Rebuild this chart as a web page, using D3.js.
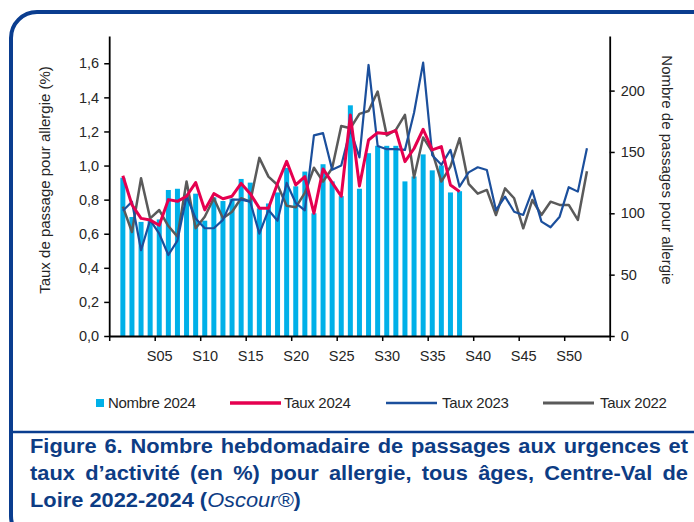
<!DOCTYPE html>
<html><head><meta charset="utf-8">
<script src="https://cdn.jsdelivr.net/npm/d3@7"></script>
<style>
html,body{margin:0;padding:0;background:#fff;}
text{font-family:"Liberation Sans",Arial,sans-serif;}
</style></head>
<body><svg id="chart" width="694" height="522"></svg>
<script>
// ---------- DATA ----------
const weeks2024 = d3.range(1, 39);
const weeksFull = d3.range(1, 53);
const nombre2024 = [129,97,93,95,95,119,120,116,116,94,113,110,112,128,125,104,108,117,137,122,134,100,140,126,114,188,120,149,155,155,155,126,130,148,135,139,117,118];
const taux2024 = [0.94,0.77,0.69,0.68,0.65,0.80,0.79,0.82,0.90,0.74,0.835,0.805,0.82,0.895,0.835,0.75,0.75,0.895,1.025,0.886,0.935,0.72,0.98,0.90,0.82,1.297,0.88,1.15,1.193,1.187,1.205,1.023,1.10,1.213,1.092,1.111,0.886,0.847];
const taux2023 = [0.735,0.788,0.503,0.68,0.60,0.475,0.56,0.82,0.69,0.632,0.632,0.681,0.80,0.80,0.788,0.60,0.739,0.676,0.898,0.78,0.737,1.177,1.19,0.976,1.0,1.211,1.048,1.59,1.115,1.096,1.096,1.092,1.31,1.604,1.06,1.004,1.092,0.876,0.96,0.99,0.974,0.739,0.818,0.729,0.71,0.853,0.671,0.638,0.70,0.873,0.847,1.101];
const taux2022 = [0.759,0.61,0.925,0.69,0.739,0.645,0.583,0.906,0.632,0.70,0.808,0.691,0.729,0.808,0.788,1.045,0.935,0.886,0.764,0.755,0.84,0.987,0.906,0.984,1.232,1.219,1.303,1.32,1.434,1.177,1.209,1.297,0.93,1.165,1.08,0.906,0.994,1.16,0.893,0.835,0.857,0.71,0.866,0.808,0.632,0.798,0.71,0.788,0.769,0.769,0.681,0.966];
const xTickLabels = ["S05","S10","S15","S20","S25","S30","S35","S40","S45","S50"];
const leftTicks = [0,0.2,0.4,0.6,0.8,1.0,1.2,1.4,1.6];
const rightTicks = [0,50,100,150,200];
const legendLabels = ["Nombre 2024","Taux 2024","Taux 2023","Taux 2022"];
const captionLines = [
  "Figure 6. Nombre hebdomadaire de passages aux urgences et",
  "taux d\u2019activité (en %) pour allergie, tous âges, Centre-Val de"
];

// ---------- STYLE ----------
const C = {bar:"#00b0e8", red:"#e5004f", blue:"#1b4f9c", gray:"#5a5a5a", frame:"#0a3d8f", cap:"#0d3c84", txt:"#262626"};

const svg = d3.select("#chart");
svg.append("rect").attr("width",694).attr("height",522).attr("fill","#fff");

// frame
svg.append("rect").attr("x",11).attr("y",12).attr("width",730).attr("height",530).attr("rx",26).attr("ry",26)
  .attr("fill","none").attr("stroke",C.frame).attr("stroke-width",4);
svg.append("line").attr("x1",11).attr("x2",694).attr("y1",432).attr("y2",432).attr("stroke",C.frame).attr("stroke-width",2.5);

// scales
const X0 = 109.2, X1 = 609.7, Y0 = 336, YT = 36;
const nSlots = 55;
const x = d3.scaleLinear().domain([0, nSlots]).range([X0, X1]);
const yL = d3.scaleLinear().domain([0, 1.76]).range([Y0, YT]);
const yR = d3.scaleLinear().domain([0, 244.5]).range([Y0, YT]);
const barW = 5;

// bars
svg.append("g").selectAll("rect").data(weeks2024).join("rect")
  .attr("x", d => x(d + 0.5) - barW/2)
  .attr("y", (d,i) => yR(nombre2024[i]))
  .attr("width", barW)
  .attr("height", (d,i) => Y0 - yR(nombre2024[i]))
  .attr("fill", C.bar);

// lines
function drawLine(weeks, vals, color, w){
  const line = d3.line().x((d,i)=>x(weeks[i]+0.5)).y(d=>yL(d)).curve(d3.curveLinear);
  svg.append("path").datum(vals).attr("d", line).attr("fill","none")
    .attr("stroke", color).attr("stroke-width", w).attr("stroke-linejoin","round");
}
drawLine(weeksFull, taux2022, C.gray, 2.5);
drawLine(weeksFull, taux2023, C.blue, 2.2);
drawLine(weeks2024, taux2024, C.red, 3);

// axes
const fmtL = d => d3.format(".1f")(d).replace(".", ",");
const gL = svg.append("g").attr("transform",`translate(${X0},0)`)
  .call(d3.axisLeft(yL).tickValues(leftTicks).tickFormat(fmtL).tickSize(5).tickSizeOuter(0).tickPadding(5));
const gR = svg.append("g").attr("transform",`translate(${X1},0)`)
  .call(d3.axisRight(yR).tickValues(rightTicks).tickSize(5).tickSizeOuter(0).tickPadding(6));
const gB = svg.append("g").attr("transform",`translate(0,${Y0})`)
  .call(d3.axisBottom(x).tickValues(d3.range(0, nSlots+1, 5)).tickFormat("").tickSize(5).tickSizeOuter(0));
const gBL = svg.append("g").attr("transform",`translate(0,${Y0})`)
  .call(d3.axisBottom(x).tickValues(xTickLabels.map((l,i)=>(i+1)*5+0.5)).tickFormat((d,i)=>xTickLabels[i]).tickSize(0).tickPadding(15));
gBL.select(".domain").remove();
[gL,gR,gB,gBL].forEach(g=>{
  g.selectAll(".domain").attr("stroke","#000").attr("stroke-width",1.8);
  g.selectAll(".tick line").attr("stroke","#000").attr("stroke-width",1.5);
  g.selectAll("text").attr("font-family","Liberation Sans, Arial, sans-serif").attr("font-size",14.5).attr("fill",C.txt);
});

// axis titles
svg.append("text").attr("transform","translate(50,180) rotate(-90)").attr("text-anchor","middle")
  .attr("font-size",15).attr("fill",C.txt).text("Taux de passage pour allergie (%)");
svg.append("text").attr("transform","translate(662,170) rotate(90)").attr("text-anchor","middle")
  .attr("font-size",15).attr("fill",C.txt).text("Nombre de passages pour allergie");

// legend
const LY = 403;
const lg = svg.append("g");
lg.append("rect").attr("x",96).attr("y",LY-4).attr("width",8).attr("height",8).attr("fill",C.bar);
const legItems = [
  {tx:108, label:legendLabels[0]},
  {lx:[230,281], color:C.red, w:3.5, tx:284, label:legendLabels[1]},
  {lx:[386,437], color:C.blue, w:2.5, tx:442, label:legendLabels[2]},
  {lx:[543,594], color:C.gray, w:2.8, tx:600, label:legendLabels[3]}
];
legItems.forEach(it=>{
  if(it.lx) lg.append("line").attr("x1",it.lx[0]).attr("x2",it.lx[1]).attr("y1",LY).attr("y2",LY)
     .attr("stroke",it.color).attr("stroke-width",it.w);
  lg.append("text").attr("x",it.tx).attr("y",LY).attr("dy","0.35em").attr("font-size",15)
    .attr("letter-spacing",-0.3).attr("fill",C.txt).text(it.label);
});

// caption (justified, slightly widened glyphs)
const SX = 1.12, CX0 = 30, CX1 = 688, CFS = 19.5;
const cap = svg.append("g").attr("transform",`scale(${SX},1)`);
function justifyLine(str, y){
  const words = str.split(" ");
  const t = cap.append("text").attr("y", y).attr("font-size",CFS).attr("font-weight","bold").attr("fill",C.cap);
  const widths = words.map(w=>{
    const tmp = cap.append("text").attr("font-size",CFS).attr("font-weight","bold").text(w);
    const wd = tmp.node().getComputedTextLength(); tmp.remove(); return wd;
  });
  const total = d3.sum(widths);
  const gap = ((CX1 - CX0)/SX - total) / (words.length - 1);
  let cx = CX0/SX;
  words.forEach((w,i)=>{ t.append("tspan").attr("x",cx).text(w); cx += widths[i] + gap; });
}
justifyLine(captionLines[0], 453);
justifyLine(captionLines[1], 480);
const t3 = cap.append("text").attr("x",CX0/SX).attr("y",507).attr("font-size",CFS).attr("font-weight","bold").attr("fill",C.cap);
t3.append("tspan").text("Loire 2022-2024 (");
t3.append("tspan").attr("font-style","italic").attr("font-weight","normal").text("Oscour®");
t3.append("tspan").text(")");
</script></body></html>
